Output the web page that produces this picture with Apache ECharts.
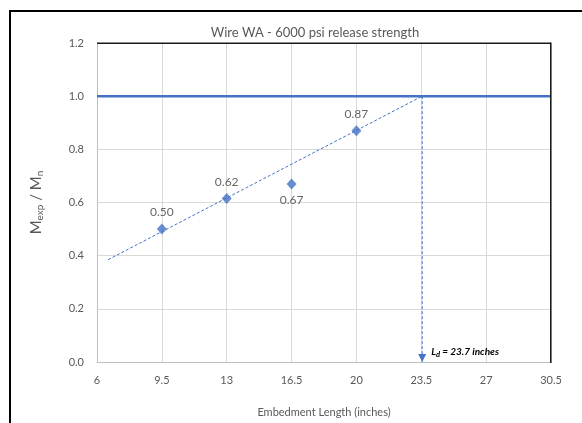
<!DOCTYPE html>
<html>
<head>
<meta charset="utf-8">
<script src="https://cdn.jsdelivr.net/npm/echarts@6/dist/echarts.min.js"></script>
<style>
  html, body { margin: 0; padding: 0; background: #fff; }
  #main { width: 582px; height: 423px; }
</style>
</head>
<body>
<div id="main"></div>
<script>
// measured points
const embedLength = [9.5, 13, 16.5, 20];
const momentRatio = [0.50, 0.615, 0.67, 0.87];
const pointLabels = ["0.50", "0.62", "0.67", "0.87"];
const labelBelow = [false, false, true, false];

// trendline and development length
const trendX = [6.6, 23.55];
const trendY = [0.385, 1.0];
const devLength = 23.55;
const targetRatio = 1.0;

const xTicks = [6, 9.5, 13, 16.5, 20, 23.5, 27, 30.5];
const xMin = 6, xMax = 30.5;

const blue = "#4472C4";
const textGrey = "#595959";
const font = "Lato, 'Open Sans', sans-serif";

const W = 582, H = 423;
const gridBox = { left: 97, right: 31, top: 43, bottom: 60 };

const chart = echarts.init(document.getElementById("main"));

const option = {
  animation: false,
  textStyle: { fontFamily: font },
  title: {
    text: "Wire WA - 6000 psi release strength",
    left: 310,
    top: 21,
    textAlign: "center",
    textStyle: { fontSize: 13, fontWeight: "normal", color: textGrey, fontFamily: font },
  },
  graphic: [
    {
      // outer chart frame
      type: "rect",
      shape: { x: 10, y: 11, width: 600, height: 450 },
      style: { fill: "none", stroke: "#000", lineWidth: 2 },
      silent: true,
    },
    {
      // dark top edge of the plot area
      type: "rect",
      z: 100,
      shape: { x: gridBox.left, y: gridBox.top - 0.5, width: W - gridBox.left - gridBox.right, height: 1.5 },
      style: { fill: "#1a1a1a" },
      silent: true,
    },
    {
      // dark right edge of the plot area
      type: "rect",
      z: 100,
      shape: { x: W - gridBox.right - 1, y: gridBox.top - 0.5, width: 1.5, height: H - gridBox.top - gridBox.bottom + 0.5 },
      style: { fill: "#1a1a1a" },
      silent: true,
    },
  ],
  grid: gridBox,
  xAxis: {
    type: "value",
    min: xMin,
    max: xMax,
    name: "Embedment Length (inches)",
    nameLocation: "middle",
    nameGap: 45,
    nameTextStyle: { fontSize: 11, color: textGrey },
    axisLine: { show: true, lineStyle: { color: "#bfbfbf" } },
    axisTick: { show: false, customValues: xTicks },
    axisLabel: {
      customValues: xTicks,
      margin: 13,
      fontSize: 11,
      color: textGrey,
      formatter: (v) => String(v),
    },
    splitLine: { show: true, lineStyle: { color: "#d9d9d9" } },
  },
  yAxis: {
    type: "value",
    min: 0,
    max: 1.2,
    interval: 0.2,
    name: "{m|M}{s|exp}{m| / M}{s|n}",
    nameLocation: "middle",
    nameGap: 52,
    nameTextStyle: {
      color: textGrey,
      rich: {
        m: { fontSize: 15, color: textGrey, fontFamily: font, lineHeight: 18, verticalAlign: "middle" },
        s: { fontSize: 10, color: textGrey, fontFamily: font, lineHeight: 8, verticalAlign: "bottom" },
      },
    },
    axisLine: { show: true, lineStyle: { color: "#bfbfbf" } },
    axisTick: { show: false },
    axisLabel: {
      margin: 13,
      fontSize: 11,
      color: textGrey,
      formatter: (v) => v.toFixed(1),
    },
    splitLine: { show: true, lineStyle: { color: "#d9d9d9" } },
  },
  series: [
    {
      name: "target",
      type: "line",
      data: [[xMin, targetRatio], [xMax, targetRatio]],
      showSymbol: false,
      lineStyle: { color: blue, width: 2.5 },
      z: 3,
    },
    {
      name: "trend",
      type: "line",
      data: trendX.map((x, i) => [x, trendY[i]]),
      showSymbol: false,
      lineStyle: { color: blue, width: 1, type: [3, 2] },
      z: 3,
    },
    {
      name: "Ld",
      type: "line",
      data: [
        { value: [devLength, targetRatio], symbol: "none" },
        {
          value: [devLength, 0],
          symbol: "triangle",
          symbolSize: [8, 8],
          symbolRotate: 180,
          symbolOffset: [0, -4],
          label: {
            show: true,
            position: "right",
            offset: [0, -6],
            distance: 5,
            formatter: "{b|L}{d|d}{b| = 23.7 inches}",
            rich: {
              b: { fontSize: 10, fontWeight: "bold", fontStyle: "italic", color: "#000", fontFamily: font, lineHeight: 13, verticalAlign: "middle" },
              d: { fontSize: 7.5, fontWeight: "bold", fontStyle: "italic", color: "#000", fontFamily: font, lineHeight: 6, verticalAlign: "bottom" },
            },
          },
        },
      ],
      showSymbol: true,
      itemStyle: { color: blue },
      lineStyle: { color: blue, width: 1, type: [3, 2] },
      z: 3,
    },
    {
      name: "tests",
      type: "scatter",
      symbol: "diamond",
      symbolSize: [10, 11],
      itemStyle: { color: blue },
      data: embedLength.map((x, i) => ({
        value: [x, momentRatio[i]],
        label: {
          show: true,
          position: labelBelow[i] ? "bottom" : "top",
          distance: 5,
          formatter: pointLabels[i],
          fontSize: 12,
          color: "#404040",
        },
      })),
      z: 4,
    },
  ],
};

chart.setOption(option);
</script>
</body>
</html>
